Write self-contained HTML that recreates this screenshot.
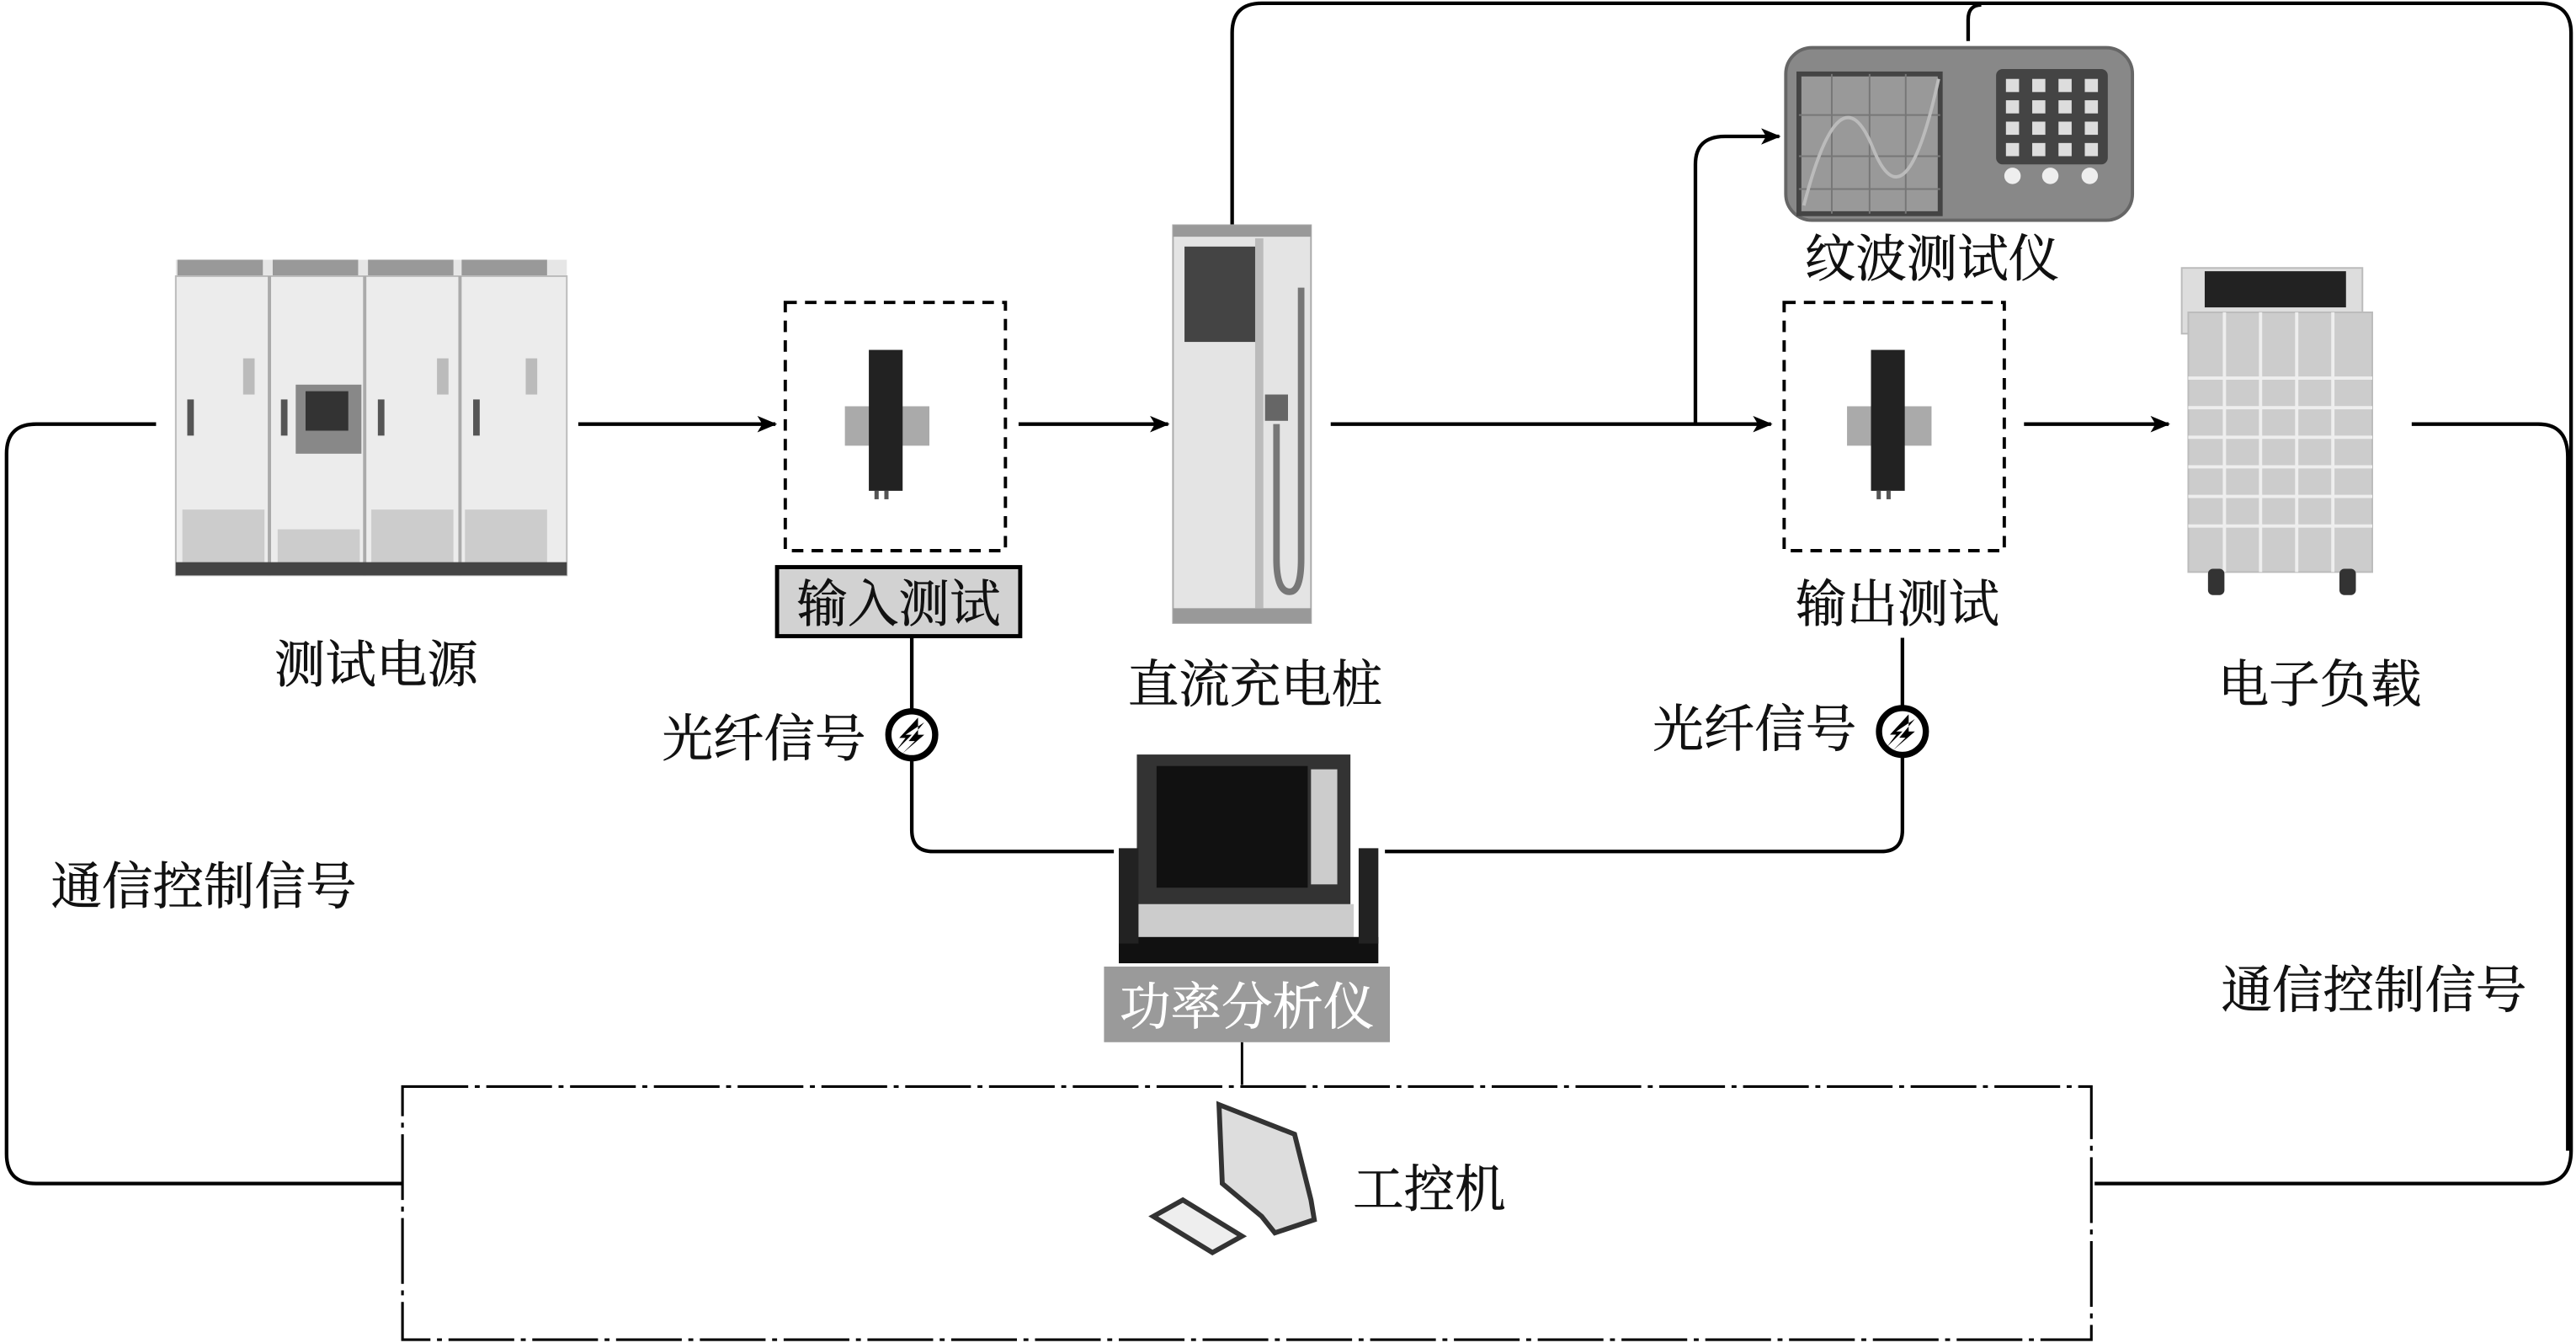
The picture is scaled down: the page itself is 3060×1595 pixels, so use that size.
<!DOCTYPE html>
<html><head><meta charset="utf-8"><style>
html,body{margin:0;padding:0;background:#fff;}
svg{display:block;}
text{font-family:"Liberation Serif","Noto Serif CJK SC","Noto Sans CJK SC",serif;font-size:31px;fill:#111;stroke:#111;stroke-width:0.3px;}
</style></head><body>
<svg width="3060" height="1595" viewBox="0 0 1568 817" preserveAspectRatio="none" xmlns="http://www.w3.org/2000/svg">
<defs>
<marker id="ah" markerWidth="12" markerHeight="10" refX="11" refY="5" orient="auto" markerUnits="userSpaceOnUse">
<path d="M0,0 L12,5 L0,10 L3,5 Z" fill="#000"/></marker>
<symbol id="ct" viewBox="0 0 70 110">
<rect x="5" y="40" width="60" height="28" fill="#aaa"/>
<rect x="22" y="0" width="24" height="100" fill="#222"/>
<rect x="26" y="100" width="3" height="6" fill="#555"/><rect x="33" y="100" width="3" height="6" fill="#555"/>
</symbol>
<symbol id="fib" viewBox="0 0 40 40">
<circle cx="20" cy="20" r="15" fill="#fff" stroke="#000" stroke-width="4"/>
<path d="M24 9 L12 22 L16 22 L10 30 L20 20 L16 20 L28 12 L18 24 L22 24 L14 32 L28 20 L24 20 Z" fill="#000"/>
</symbol>
</defs>

<g fill="none" stroke="#000" stroke-width="2.2">
<line x1="352" y1="258" x2="472" y2="258" marker-end="url(#ah)"/>
<line x1="620" y1="258" x2="711" y2="258" marker-end="url(#ah)"/>
<line x1="810" y1="258" x2="1078" y2="258" marker-end="url(#ah)"/>
<path d="M1032 258 V100 Q1032 83 1050 83 H1083" marker-end="url(#ah)"/>
<line x1="1232" y1="258" x2="1320" y2="258" marker-end="url(#ah)"/>
<path d="M750 137 V20 Q750 2 768 2 H1546 Q1565 2 1565 20 V700 Q1565 720 1546 720 H1275"/>
<path d="M1198 25 V12 Q1198 3 1206 3"/>
<path d="M1468 258 H1545 Q1563 258 1563 278 V700"/>
<path d="M95 258 H22 Q4 258 4 276 V702 Q4 720 22 720 H245"/>
<path d="M555 388 V505 Q555 518 568 518 H678"/>
<path d="M1158 388 V505 Q1158 518 1145 518 H843"/>
<line x1="756" y1="634" x2="756" y2="660" stroke-width="1.5"/>
</g>

<rect x="245" y="661" width="1028" height="154" fill="none" stroke="#000" stroke-width="1.6" stroke-dasharray="40,4,3,4"/>

<g>
<rect x="107" y="158" width="238" height="192" fill="#e6e6e6"/>
<g fill="#999">
<rect x="108" y="158" width="52" height="10"/><rect x="166" y="158" width="52" height="10"/><rect x="224" y="158" width="52" height="10"/><rect x="281" y="158" width="52" height="10"/>
</g>
<rect x="107" y="168" width="238" height="182" fill="#ececec" stroke="#bbb"/>
<g stroke="#aaa" stroke-width="2"><line x1="164" y1="168" x2="164" y2="350"/><line x1="222" y1="168" x2="222" y2="350"/><line x1="280" y1="168" x2="280" y2="350"/></g>
<g fill="#ccc"><rect x="111" y="310" width="50" height="35"/><rect x="169" y="322" width="50" height="23"/><rect x="226" y="310" width="50" height="35"/><rect x="283" y="310" width="50" height="35"/></g>
<rect x="107" y="342" width="238" height="8" fill="#444"/>
<rect x="180" y="234" width="40" height="42" fill="#888"/><rect x="186" y="238" width="26" height="24" fill="#333"/>
<g fill="#555"><rect x="114" y="243" width="4" height="22"/><rect x="171" y="243" width="4" height="22"/><rect x="230" y="243" width="4" height="22"/><rect x="288" y="243" width="4" height="22"/></g>
<g fill="#bbb"><rect x="148" y="218" width="7" height="22"/><rect x="266" y="218" width="7" height="22"/><rect x="320" y="218" width="7" height="22"/></g>
</g>

<rect x="478" y="184" width="134" height="151" fill="none" stroke="#000" stroke-width="2" stroke-dasharray="7,5"/>
<use href="#ct" x="510" y="205" width="60" height="110"/>
<rect x="473" y="345" width="148" height="42" fill="#d2d2d2" stroke="#000" stroke-width="2.5"/>
<text x="547" y="378" text-anchor="middle">输入测试</text>

<rect x="714" y="137" width="84" height="242" fill="#e4e4e4" stroke="#aaa"/>
<rect x="714" y="137" width="84" height="7" fill="#999"/>
<rect x="714" y="370" width="84" height="9" fill="#999"/>
<rect x="721" y="150" width="44" height="58" fill="#444"/>
<rect x="764" y="145" width="5" height="225" fill="#bbb"/>
<rect x="770" y="240" width="14" height="16" fill="#666"/>
<path d="M792 175 V340 Q792 360 785 360 Q777 360 777 340 V258" fill="none" stroke="#777" stroke-width="4"/>

<rect x="1087" y="29" width="211" height="105" rx="16" fill="#888" stroke="#666" stroke-width="2"/>
<rect x="1095" y="45" width="86" height="85" fill="#999" stroke="#444" stroke-width="3"/>
<g stroke="#777" stroke-width="1"><line x1="1095" y1="70" x2="1181" y2="70"/><line x1="1095" y1="95" x2="1181" y2="95"/><line x1="1095" y1="115" x2="1181" y2="115"/><line x1="1115" y1="45" x2="1115" y2="130"/><line x1="1138" y1="45" x2="1138" y2="130"/><line x1="1160" y1="45" x2="1160" y2="130"/></g>
<path d="M1098 125 Q1120 40 1140 90 Q1160 140 1180 48" fill="none" stroke="#bbb" stroke-width="2"/>
<rect x="1215" y="42" width="68" height="58" rx="4" fill="#444"/>
<g fill="#ddd">
<rect x="1221" y="48" width="8" height="8"/><rect x="1237" y="48" width="8" height="8"/><rect x="1253" y="48" width="8" height="8"/><rect x="1269" y="48" width="8" height="8"/>
<rect x="1221" y="61" width="8" height="8"/><rect x="1237" y="61" width="8" height="8"/><rect x="1253" y="61" width="8" height="8"/><rect x="1269" y="61" width="8" height="8"/>
<rect x="1221" y="74" width="8" height="8"/><rect x="1237" y="74" width="8" height="8"/><rect x="1253" y="74" width="8" height="8"/><rect x="1269" y="74" width="8" height="8"/>
<rect x="1221" y="87" width="8" height="8"/><rect x="1237" y="87" width="8" height="8"/><rect x="1253" y="87" width="8" height="8"/><rect x="1269" y="87" width="8" height="8"/>
</g>
<g fill="#eee"><circle cx="1225" cy="107" r="5"/><circle cx="1248" cy="107" r="5"/><circle cx="1272" cy="107" r="5"/></g>
<text x="1176" y="168" text-anchor="middle">纹波测试仪</text>

<rect x="1086" y="184" width="134" height="151" fill="none" stroke="#000" stroke-width="2" stroke-dasharray="7,5"/>
<use href="#ct" x="1120" y="205" width="60" height="110"/>
<text x="1155" y="378" text-anchor="middle">输出测试</text>

<rect x="1328" y="163" width="110" height="40" fill="#ddd" stroke="#bbb"/>
<rect x="1342" y="165" width="86" height="22" fill="#222"/>
<rect x="1332" y="190" width="112" height="158" fill="#ccc" stroke="#bbb"/>
<g stroke="#eee" stroke-width="2">
<line x1="1332" y1="230" x2="1444" y2="230"/><line x1="1332" y1="248" x2="1444" y2="248"/><line x1="1332" y1="266" x2="1444" y2="266"/><line x1="1332" y1="284" x2="1444" y2="284"/><line x1="1332" y1="302" x2="1444" y2="302"/><line x1="1332" y1="320" x2="1444" y2="320"/>
<line x1="1354" y1="190" x2="1354" y2="348"/><line x1="1376" y1="190" x2="1376" y2="348"/><line x1="1398" y1="190" x2="1398" y2="348"/><line x1="1420" y1="190" x2="1420" y2="348"/>
</g>
<rect x="1344" y="346" width="10" height="16" rx="3" fill="#333"/><rect x="1424" y="346" width="10" height="16" rx="3" fill="#333"/>

<rect x="692" y="459" width="130" height="92" fill="#333"/>
<rect x="704" y="466" width="92" height="74" fill="#111"/>
<rect x="798" y="468" width="16" height="70" fill="#ccc"/>
<rect x="690" y="550" width="134" height="20" fill="#ccc"/>
<rect x="681" y="570" width="158" height="16" fill="#111"/>
<rect x="681" y="516" width="12" height="58" fill="#222"/><rect x="827" y="516" width="12" height="58" fill="#222"/>
<rect x="672" y="588" width="174" height="46" fill="#9a9a9a"/>
<text x="759" y="623" text-anchor="middle" style="fill:#fff;stroke:#fff">功率分析仪</text>

<path d="M742 672 L788 690 L798 730 L800 742 L776 750 L768 740 L744 720 Z" fill="#ddd" stroke="#333" stroke-width="3"/>
<path d="M702 740 L720 730 L756 752 L738 762 Z" fill="#eee" stroke="#333" stroke-width="3"/>
<text x="870" y="734" text-anchor="middle">工控机</text>

<use href="#fib" x="536" y="428" width="38" height="38"/>
<use href="#fib" x="1139" y="426" width="38" height="38"/>

<text x="229" y="415" text-anchor="middle">测试电源</text>
<text x="764" y="427" text-anchor="middle">直流充电桩</text>
<text x="1412" y="427" text-anchor="middle">电子负载</text>
<text x="465" y="460" text-anchor="middle">光纤信号</text>
<text x="1068" y="454" text-anchor="middle">光纤信号</text>
<text x="124" y="550" text-anchor="middle">通信控制信号</text>
<text x="1445" y="613" text-anchor="middle">通信控制信号</text>
</svg>
</body></html>
